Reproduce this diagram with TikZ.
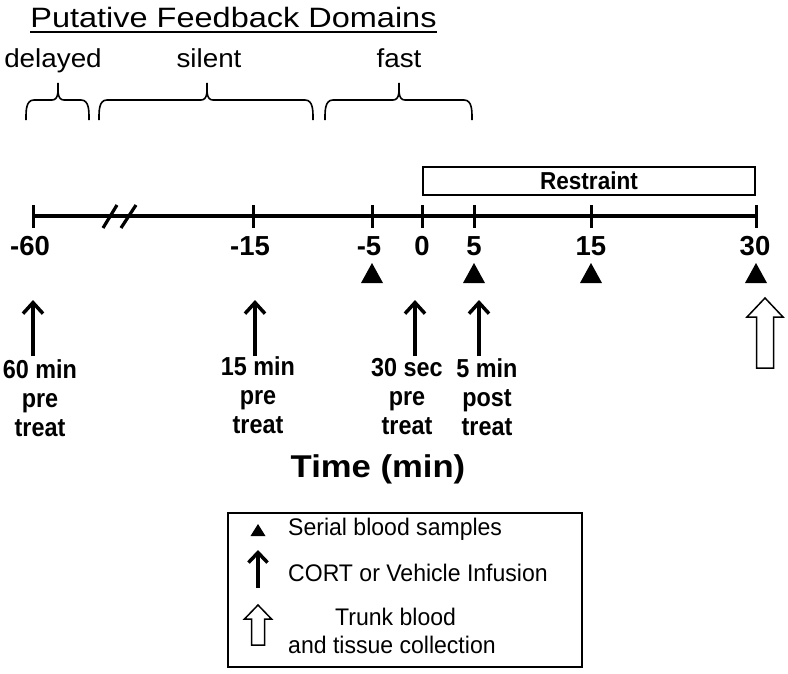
\documentclass[tikz,border=0pt]{standalone}
\usepackage{fontspec}
\setmainfont{Liberation Sans}
\newfontfamily\titlef[FakeStretch=1.16]{Liberation Sans}
\newfontfamily\domf[FakeStretch=1.07]{Liberation Sans}
\newfontfamily\timef[FakeStretch=1.1]{Liberation Sans}
\newfontfamily\labf[FakeStretch=0.9]{Liberation Sans}
\newfontfamily\restf[FakeStretch=0.92]{Liberation Sans}
\newfontfamily\legf[FakeStretch=0.96]{Liberation Sans}
\usetikzlibrary{arrows.meta}
\begin{document}
\begin{tikzpicture}[x=1pt,y=-1pt,
  axisline/.style={line width=3.5pt},
  tickline/.style={line width=3pt},
  bracestyle/.style={line width=1.6pt},
  infarrow/.style={line width=3.5pt,-{Straight Barb[length=11pt,width=20pt]}},
  hollow/.style={line width=1.5pt,fill=white,line join=miter},
  ticklab/.style={font=\fontsize{27.5}{30}\selectfont\bfseries,anchor=base,inner sep=0pt},
  arrlab/.style={font=\labf\fontsize{26}{29}\selectfont\bfseries,align=center,anchor=north,inner sep=0pt},
  domlab/.style={font=\domf\fontsize{26}{30}\selectfont,anchor=base,inner sep=0pt},
  legtext/.style={font=\legf\fontsize{24}{28}\selectfont,anchor=west,inner sep=0pt},
  samp/.pic={\fill (-11,10) -- (11,10) -- (0,-10) -- cycle;},
  legsamp/.pic={\fill (-7.5,6) -- (7.5,6) -- (0,-6) -- cycle;}
]
\useasboundingbox (0,0) rectangle (788,673);

% title
\node[font=\titlef\fontsize{28}{32}\selectfont,anchor=base,inner sep=0pt] (title) at (233.5,27) {Putative Feedback Domains};
\draw[line width=1.5pt] (title.south west |- 0,32) coordinate (ul1) -- (title.south east |- 0,32) coordinate (ul2);

% domain labels
\node[domlab] (ldel) at (53,67) {delayed};
\node[domlab] (lsil) at (209,67) {silent};
\node[domlab] (lfas) at (399,67) {fast};

% braces
\newcommand\domainbrace[3]{%
  \draw[bracestyle] (#1,120) to[out=90,in=180] (#1+8,100) -- (#2-6,100)
    to[out=0,in=-90] (#2,83) to[out=-90,in=180] (#2+6,100) -- (#3-8,100)
    to[out=0,in=90] (#3,120);}
\domainbrace{26}{58}{89}
\domainbrace{99}{207}{313}
\domainbrace{325}{399}{472}

% restraint box
\node[draw,line width=1.5pt,minimum width=332pt,minimum height=28pt,inner sep=0pt,
      font=\restf\fontsize{24.5}{26}\selectfont\bfseries] (restr) at (589,181) {Restraint};

% axis
\coordinate (t60) at (33,216);
\coordinate (t15) at (253,216);
\coordinate (t5) at (372,216);
\coordinate (t0) at (422,216);
\coordinate (p5) at (474,216);
\coordinate (p15) at (591,216);
\coordinate (p30) at (756,216);
\draw[axisline] (t60) -- (p30);
\foreach \t in {t60,t15,t5,t0,p5,p15,p30}
  \draw[tickline] ([yshift=11pt]\t) -- ([yshift=-12pt]\t);
% break marks
\draw[line width=3.2pt] (103,228) -- (117,205);
\draw[line width=3.2pt] (121,228) -- (136,205);

% tick labels
\node[ticklab] (l60) at (30,255) {-60};
\node[ticklab] (l15) at (250,255) {-15};
\node[ticklab] (l5) at (369,255) {-5};
\node[ticklab] (l0) at (422,255) {0};
\node[ticklab] (l5p) at (474,255) {5};
\node[ticklab] (l15p) at (591,255) {15};
\node[ticklab] (l30p) at (755,255) {30};

% blood samples
\pic at (372,273) {samp};
\pic at (474,273) {samp};
\pic at (591,273) {samp};
\pic at (756,273) {samp};

% infusion arrows
\coordinate (a60b) at (33,356);  \coordinate (a60t) at (33,300);
\coordinate (a15b) at (255,356); \coordinate (a15t) at (255,300);
\coordinate (a30b) at (415,356); \coordinate (a30t) at (415,300);
\coordinate (a5b) at (479,356);  \coordinate (a5t) at (479,300);
\draw[infarrow] (a60b) -- (a60t);
\draw[infarrow] (a15b) -- (a15t);
\draw[infarrow] (a30b) -- (a30t);
\draw[infarrow] (a5b) -- (a5t);

% trunk blood arrow
\draw[hollow] (765,298) -- (783,317) -- (773.5,317) -- (773.5,368) -- (756.5,368)
  -- (756.5,317) -- (747,317) -- cycle;

% arrow labels
\node[arrlab] (n60) at (40,359) {60 min\\pre\\treat};
\node[arrlab] (n15) at (258,356) {15 min\\pre\\treat};
\node[arrlab] (n30) at (407,358) {30 sec\\pre\\treat};
\node[arrlab] (n5) at (487,358) {5 min\\post\\treat};

% time label
\node[font=\timef\fontsize{31.5}{34}\selectfont\bfseries,inner sep=0pt] (time) at (378,469) {Time (min)};

% legend
\node[draw,line width=1.5pt,minimum width=354pt,minimum height=154pt,inner sep=0pt] (legend) at (405,590) {};
\pic at (258,530) {legsamp};
\node[legtext] (lg1) at (288,529) {Serial blood samples};
\coordinate (lab) at (258,588); \coordinate (lat) at (258,550);
\draw[line width=3.5pt,-{Straight Barb[length=10pt,width=19pt]}] (lab) -- (lat);
\node[legtext] (lg2) at (288,573) {CORT or Vehicle Infusion};
\draw[hollow] (258,605) -- (271.5,619) -- (264.5,619) -- (264.5,645) -- (251.5,645)
  -- (251.5,619) -- (244.5,619) -- cycle;
\node[legtext] (lg3) at (335,617) {Trunk blood};
\node[legtext] (lg4) at (288,645) {and tissue collection};
\end{tikzpicture}
\end{document}
